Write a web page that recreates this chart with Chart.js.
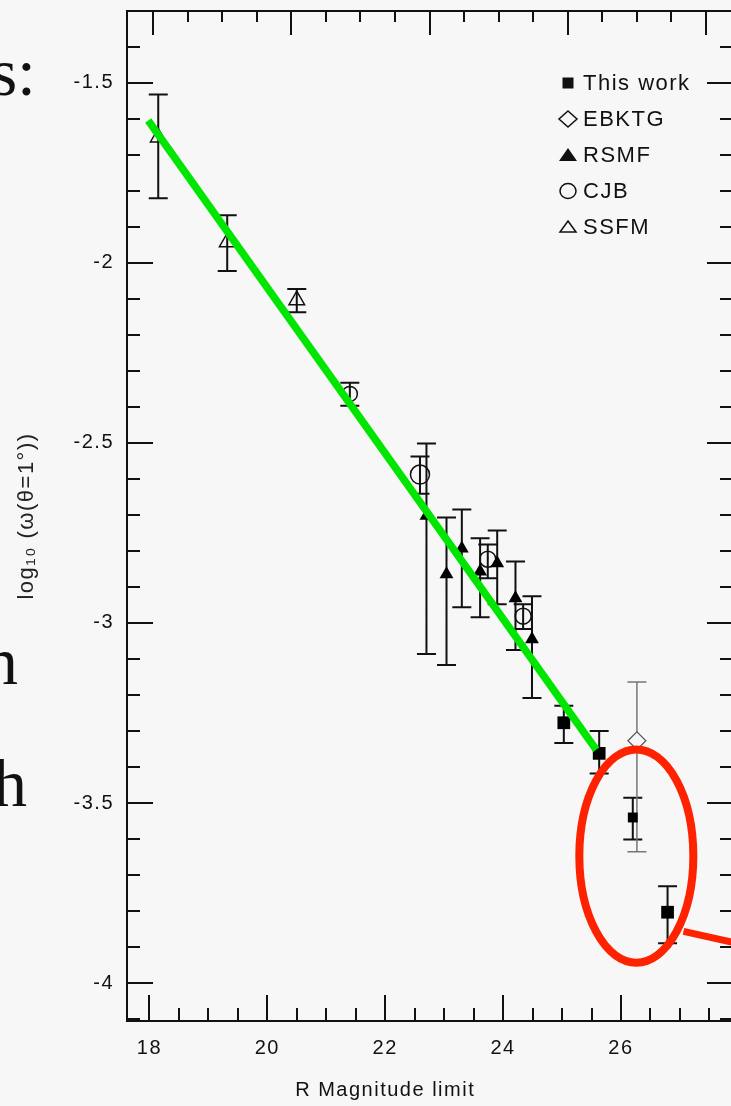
<!DOCTYPE html>
<html>
<head>
<meta charset="utf-8">
<script src="https://cdn.jsdelivr.net/npm/chart.js@4"></script>
<style>
  html, body { margin: 0; padding: 0; background: #f7f7f7; }
  body { width: 731px; height: 1106px; overflow: hidden; position: relative; }
  #plot { position: absolute; left: 0; top: 0; }
  .slide { position: absolute; font-family: "Liberation Serif", serif; font-size: 68px; line-height: 68px; color: #111; text-align: right; white-space: nowrap; }
</style>
</head>
<body>
<div class="slide" style="right: 695px; top: 38px;">s:</div>
<div class="slide" style="right: 713px; top: 627px;">n</div>
<div class="slide" style="right: 704px; top: 749px;">h</div>
<canvas id="plot" width="760" height="1106"></canvas>
<script>
// R magnitude limit vs log10 w(theta = 1 deg)
const thisWorkMag = [25.03, 25.63, 26.20, 26.79];
const thisWorkLogW = [-3.277, -3.362, -3.540, -3.803];
const thisWorkLo = [-3.333, -3.418, -3.601, -3.889];
const thisWorkHi = [-3.230, -3.300, -3.485, -3.731];

const ebktgMag = [26.27];
const ebktgLogW = [-3.327];
const ebktgLo = [-3.635];
const ebktgHi = [-3.164];

const rsmfMag = [22.70, 23.04, 23.30, 23.61, 23.90, 24.21, 24.49];
const rsmfLogW = [-2.702, -2.865, -2.793, -2.857, -2.834, -2.931, -3.045];
const rsmfLo = [-3.086, -3.117, -2.956, -2.984, -2.948, -3.075, -3.208];
const rsmfHi = [-2.502, -2.707, -2.685, -2.765, -2.743, -2.829, -2.926];

const cjbMag = [21.40, 22.59, 23.74, 24.34];
const cjbLogW = [-2.364, -2.588, -2.823, -2.981];
const cjbLo = [-2.397, -2.641, -2.876, -3.017];
const cjbHi = [-2.333, -2.538, -2.782, -2.948];

const ssfmMag = [18.15, 19.32, 20.50];
const ssfmLogW = [-1.652, -1.943, -2.104];
const ssfmLo = [-1.821, -2.023, -2.137];
const ssfmHi = [-1.533, -1.868, -2.073];

// green fit line and the red marker (ring + pointer)
const fitMag = [17.98, 25.58];
const fitLogW = [-1.605, -3.352];
const pointerMag = [27.06, 28.40];
const pointerLogW = [-3.856, -3.905];
const ringCenter = [26.26, -3.647];
const ringRadius = [0.967, 0.296];

const xTickLabels = [18, 20, 22, 24, 26];
const yTickLabels = [-1.5, -2, -2.5, -3, -3.5, -4];

const legendNames = ['This work', 'EBKTG', 'RSMF', 'CJB', 'SSFM'];

function pts(xs, ys) {
  return xs.map((x, i) => ({ x: x, y: ys[i] }));
}

const ink = '#111';
const bg = '#f7f7f7';
const labelFont = { family: 'Liberation Sans', size: 20 };

// no extra room for overhanging labels: the frame sits where the original has it
function noPad(s) {
  s.paddingTop = 0; s.paddingBottom = 0; s.paddingLeft = 0; s.paddingRight = 0;
}

// ticks point inward on all four sides
const inTicks = {
  id: 'inTicks',
  beforeDraw(chart) {
    chart.ctx.letterSpacing = '1.5px';
  },
  beforeDatasetsDraw(chart) {
    const { ctx, chartArea: a, scales } = chart;
    ctx.save();
    ctx.strokeStyle = ink;
    ctx.lineWidth = 2;
    ctx.beginPath();
    const x = scales.x;
    for (let i = Math.ceil(x.min * 2); i <= x.max * 2; i++) {
      const px = Math.round(x.getPixelForValue(i / 2));
      const len = i % 4 === 0 ? 26 : 13;
      ctx.moveTo(px, a.bottom);
      ctx.lineTo(px, a.bottom - len);
    }
    const x2 = scales.x2;
    for (let v = Math.ceil(x2.min); v <= x2.max; v++) {
      const px = Math.round(x2.getPixelForValue(v));
      const len = v % 4 === 0 ? 24 : 11;
      ctx.moveTo(px, a.top);
      ctx.lineTo(px, a.top + len);
    }
    const y = scales.y;
    for (let i = Math.ceil(y.min * 10); i <= y.max * 10; i++) {
      const py = Math.round(y.getPixelForValue(i / 10));
      const len = i % 5 === 0 ? 26 : 13;
      ctx.moveTo(a.left, py);
      ctx.lineTo(a.left + len, py);
      ctx.moveTo(a.right, py);
      ctx.lineTo(a.right - len, py);
    }
    ctx.stroke();

    // error bars, under the markers
    chart.data.datasets.forEach(ds => {
      if (!ds.errLo) return;
      ctx.strokeStyle = ds.errColor || ink;
      ctx.lineWidth = ds.errWidth || 2;
      ctx.beginPath();
      ds.data.forEach((p, i) => {
        const px = x.getPixelForValue(p.x);
        const lo = y.getPixelForValue(ds.errLo[i]);
        const hi = y.getPixelForValue(ds.errHi[i]);
        ctx.moveTo(px, lo); ctx.lineTo(px, hi);
        ctx.moveTo(px - 9.5, lo); ctx.lineTo(px + 9.5, lo);
        ctx.moveTo(px - 9.5, hi); ctx.lineTo(px + 9.5, hi);
      });
      ctx.stroke();
    });
    ctx.restore();
  },
  afterDatasetsDraw(chart) {
    const { ctx, scales: { x, y } } = chart;
    ctx.save();
    ctx.strokeStyle = '#ff2200';
    ctx.lineWidth = 8;
    const cx = x.getPixelForValue(ringCenter[0]);
    const cy = y.getPixelForValue(ringCenter[1]);
    const rx = x.getPixelForValue(ringCenter[0] + ringRadius[0]) - cx;
    const ry = cy - y.getPixelForValue(ringCenter[1] + ringRadius[1]);
    ctx.beginPath();
    ctx.ellipse(cx, cy, rx, ry, 0, 0, Math.PI * 2);
    ctx.stroke();
    ctx.restore();
  },
  afterDraw(chart) {
    const { ctx, chartArea: a } = chart;
    ctx.save();
    // legend in the upper right corner of the frame
    const sx = a.right - 165, tx = a.right - 150;
    ctx.font = '22px "Liberation Sans"';
    ctx.textBaseline = 'middle';
    ctx.fillStyle = ink;
    ctx.strokeStyle = ink;
    ctx.lineWidth = 1.5;
    legendNames.forEach((name, i) => {
      const cy = a.top + 72 + i * 36;
      ctx.beginPath();
      if (i === 0) {
        ctx.rect(sx - 5.5, cy - 5.5, 11, 11);
        ctx.fill();
      } else if (i === 1) {
        ctx.moveTo(sx, cy - 8); ctx.lineTo(sx + 9, cy); ctx.lineTo(sx, cy + 8); ctx.lineTo(sx - 9, cy); ctx.closePath();
        ctx.stroke();
      } else if (i === 2) {
        ctx.moveTo(sx, cy - 7); ctx.lineTo(sx + 9, cy + 6); ctx.lineTo(sx - 9, cy + 6); ctx.closePath();
        ctx.fill();
      } else if (i === 3) {
        ctx.ellipse(sx, cy, 8, 7.5, 0, 0, Math.PI * 2);
        ctx.stroke();
      } else {
        ctx.moveTo(sx, cy - 6); ctx.lineTo(sx + 8, cy + 5); ctx.lineTo(sx - 8, cy + 5); ctx.closePath();
        ctx.stroke();
      }
      ctx.fillText(name, tx, cy + 1);
    });
    // x axis title, as placed in the original figure
    ctx.font = '20px "Liberation Sans"';
    ctx.textAlign = 'center';
    ctx.fillText('R Magnitude limit', chart.scales.x.getPixelForValue(22), 1090);
    ctx.restore();
  }
};

new Chart(document.getElementById('plot'), {
  type: 'scatter',
  data: {
    datasets: [
      { label: 'fit', data: pts(fitMag, fitLogW), showLine: true, borderColor: '#00e600', borderWidth: 7.5, pointRadius: 0, borderCapStyle: 'butt', order: 0 },
      { label: 'pointer', data: pts(pointerMag, pointerLogW), showLine: true, borderColor: '#ff2200', borderWidth: 7, pointRadius: 0, clip: false, order: 0 },
      { label: legendNames[0], data: pts(thisWorkMag, thisWorkLogW), errLo: thisWorkLo, errHi: thisWorkHi,
        pointStyle: 'rect', pointRadius: [9, 9, 7, 9], backgroundColor: '#000', borderWidth: 0, order: 1 },
      { label: legendNames[1], data: pts(ebktgMag, ebktgLogW), errLo: ebktgLo, errHi: ebktgHi, errColor: '#777', errWidth: 1.5,
        pointStyle: 'rectRot', pointRadius: 9, backgroundColor: bg, borderColor: '#555', borderWidth: 1.2, order: 2 },
      { label: legendNames[2], data: pts(rsmfMag, rsmfLogW), errLo: rsmfLo, errHi: rsmfHi,
        pointStyle: 'triangle', pointRadius: 8, backgroundColor: '#000', borderWidth: 0, order: 1 },
      { label: legendNames[3], data: pts(cjbMag, cjbLogW), errLo: cjbLo, errHi: cjbHi,
        pointStyle: 'circle', pointRadius: [7.5, 9.5, 8, 8], backgroundColor: 'rgba(0,0,0,0)', borderColor: ink, borderWidth: 1.5, order: 1 },
      { label: legendNames[4], data: pts(ssfmMag, ssfmLogW), errLo: ssfmLo, errHi: ssfmHi,
        pointStyle: 'triangle', pointRadius: 9, backgroundColor: 'rgba(0,0,0,0)', borderColor: ink, borderWidth: 1.5, order: 1 }
    ]
  },
  options: {
    responsive: false,
    animation: false,
    events: [],
    layout: { padding: 0 },
    plugins: { legend: { display: false }, tooltip: { enabled: false } },
    scales: {
      x: {
        type: 'linear', position: 'bottom', min: 17.62, max: 27.9,
        grid: { display: false, drawTicks: false },
        border: { display: true, color: ink, width: 2 },
        ticks: { stepSize: 2, includeBounds: false, padding: 15, font: labelFont, color: ink,
          callback: v => xTickLabels.includes(v) ? String(v) : '' },
        afterFit: s => { s.height = 85; noPad(s); }
      },
      x2: {
        type: 'linear', position: 'top', min: -0.752, max: 16.78,
        grid: { display: false, drawTicks: false },
        border: { display: true, color: ink, width: 2 },
        ticks: { display: false },
        afterFit: s => { s.height = 8; noPad(s); }
      },
      y: {
        type: 'linear', position: 'left', min: -4.105, max: -1.301,
        grid: { display: false, drawTicks: false },
        border: { display: true, color: ink, width: 2 },
        ticks: { stepSize: 0.5, includeBounds: false, padding: 13, font: labelFont, color: ink,
          callback: v => { const r = Math.round(v * 10) / 10; return yTickLabels.includes(r) ? String(r) : ''; } },
        title: { display: true, text: 'log₁₀ (ω(θ=1°))', color: '#222', font: { family: 'Liberation Sans', size: 22 }, padding: { top: 14, bottom: 0 } },
        afterFit: s => { s.width = 127; noPad(s); }
      },
      y2: {
        type: 'linear', position: 'right', min: -4.105, max: -1.301,
        grid: { display: false, drawTicks: false },
        border: { display: true, color: ink, width: 2 },
        ticks: { display: false },
        afterFit: s => { s.width = 27; noPad(s); }
      }
    }
  },
  plugins: [inTicks]
});
</script>
</body>
</html>
